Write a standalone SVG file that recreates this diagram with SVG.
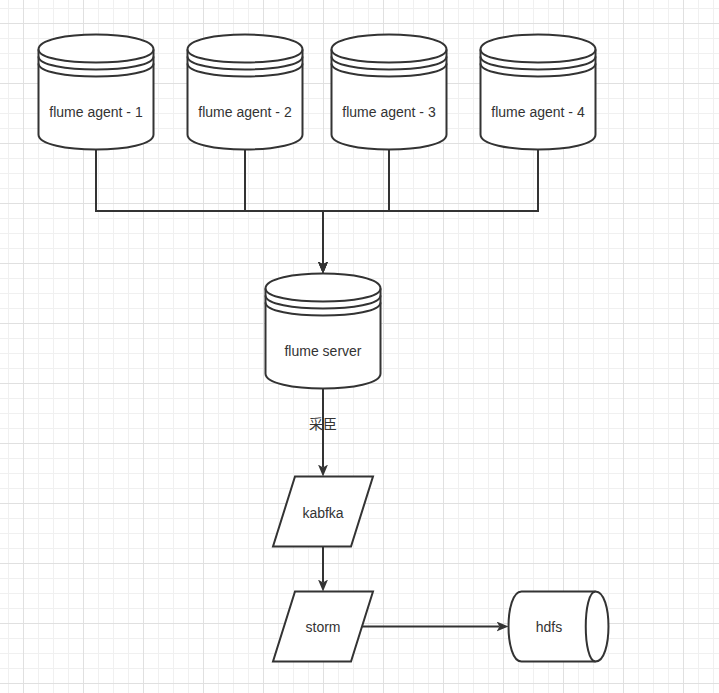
<svg xmlns="http://www.w3.org/2000/svg" xmlns:xlink="http://www.w3.org/1999/xlink" width="719" height="693" viewBox="0 0 719 693">
<style>
.shape{fill:#ffffff;stroke:#333333;stroke-width:2}
.nofill{fill:none}
.edge{fill:none;stroke:#333333;stroke-width:2}
.lbl{font-family:"Liberation Sans","Noto Sans CJK SC",sans-serif;font-size:14px;fill:#333333;text-anchor:middle}
</style>
<defs>
<pattern id="grid" x="23" y="23" width="60" height="60" patternUnits="userSpaceOnUse">
<rect x="15" y="0" width="1" height="60" fill="#f0f0f0"/>
<rect x="30" y="0" width="1" height="60" fill="#f0f0f0"/>
<rect x="45" y="0" width="1" height="60" fill="#f0f0f0"/>
<rect x="0" y="15" width="60" height="1" fill="#f0f0f0"/>
<rect x="0" y="30" width="60" height="1" fill="#f0f0f0"/>
<rect x="0" y="45" width="60" height="1" fill="#f0f0f0"/>
<rect x="0" y="0" width="1" height="60" fill="#e0e0e0"/>
<rect x="0" y="0" width="60" height="1" fill="#e0e0e0"/>
</pattern>
<marker id="arrow" viewBox="0 0 12 10" markerWidth="12" markerHeight="10" refX="3" refY="5" orient="auto" markerUnits="userSpaceOnUse">
<path d="M0,0 L12,5 L0,10 L3,5 Z" fill="#333333" stroke="none"/>
</marker>
<g id="datastore">
<path class="shape" d="M0,15 C0,-5 115,-5 115,15 L115,100 C115,120 0,120 0,100 Z"/>
<path class="shape nofill" d="M0,15 C0,32.3 115,32.3 115,15 M0,22 C0,39.3 115,39.3 115,22 M0,29 C0,46.3 115,46.3 115,29"/>
</g>
</defs>
<rect x="0" y="0" width="719" height="693" fill="#ffffff"/>
<rect x="0" y="0" width="719" height="693" fill="url(#grid)"/>

<g id="connectors">
<path class="edge" marker-end="url(#arrow)" d="M96,149.5 V211 H323 V264.5"/>
<path class="edge" marker-end="url(#arrow)" d="M245,149.5 V211 H323 V264.5"/>
<path class="edge" marker-end="url(#arrow)" d="M389,149.5 V211 H323 V264.5"/>
<path class="edge" marker-end="url(#arrow)" d="M538,149.5 V211 H323 V264.5"/>
<path class="edge" marker-end="url(#arrow)" d="M323,388.5 V467.5"/>
<text class="lbl" x="323" y="429">采臣</text>
<path class="edge" marker-end="url(#arrow)" d="M323,546.5 V582.5"/>
<path class="edge" marker-end="url(#arrow)" d="M362,626.5 H499.5"/>
</g>

<g id="agent1">
<use xlink:href="#datastore" transform="translate(38.5,34.5)"/>
<text class="lbl" x="96" y="117">flume agent - 1</text>
</g>
<g id="agent2">
<use xlink:href="#datastore" transform="translate(187.5,34.5)"/>
<text class="lbl" x="245" y="117">flume agent - 2</text>
</g>
<g id="agent3">
<use xlink:href="#datastore" transform="translate(331.5,34.5)"/>
<text class="lbl" x="389" y="117">flume agent - 3</text>
</g>
<g id="agent4">
<use xlink:href="#datastore" transform="translate(480.5,34.5)"/>
<text class="lbl" x="538" y="117">flume agent - 4</text>
</g>
<g id="server">
<use xlink:href="#datastore" transform="translate(265.5,273.5)"/>
<text class="lbl" x="323" y="356">flume server</text>
</g>
<g id="kabfka">
<path class="shape" d="M295,476.5 L373,476.5 L351,546.5 L273,546.5 Z"/>
<text class="lbl" x="323" y="518">kabfka</text>
</g>
<g id="storm">
<path class="shape" d="M295,591.5 L373,591.5 L351,661.5 L273,661.5 Z"/>
<text class="lbl" x="323" y="632">storm</text>
</g>
<g id="hdfs">
<path class="shape" d="M595.5,591.5 C612.8,591.5 612.8,661.5 595.5,661.5 L521.5,661.5 C504.2,661.5 504.2,591.5 521.5,591.5 Z"/>
<path class="shape nofill" d="M595.5,591.5 C582.5,591.5 582.5,661.5 595.5,661.5"/>
<text class="lbl" x="549" y="632">hdfs</text>
</g>
</svg>
